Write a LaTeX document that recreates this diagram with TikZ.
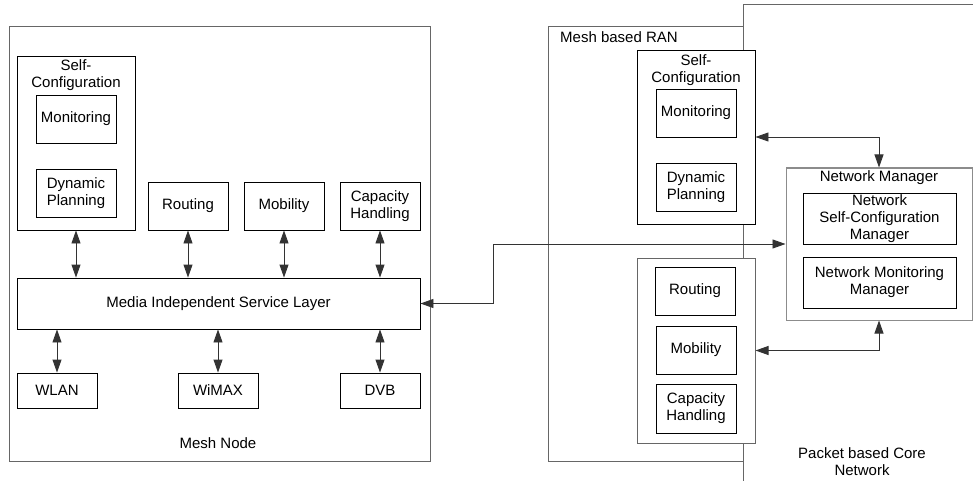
\documentclass[tikz,border=0pt]{standalone}
\usepackage{fontspec}
\setmainfont{Liberation Sans}
\usetikzlibrary{arrows.meta}
\begin{document}
\begin{tikzpicture}[x=1pt,y=-1pt,
 box/.style={draw=black, line width=0.9pt, fill=white, inner sep=0pt, align=center, font=\fontsize{15}{17}\selectfont},
 gbox/.style={box, draw=black!60, line width=1pt},
 lbl/.style={inner sep=0pt, align=center, font=\fontsize{15}{17}\selectfont},
 arr/.style={draw=black!80, line width=0.9pt, arrows={Triangle[length=13pt,width=9pt]-Triangle[length=13pt,width=9pt]}}]
\useasboundingbox (0,0) rectangle (973,481);
% ---------- left: mesh node ----------
\node[gbox, fill=none, minimum width=421, minimum height=434] (meshnode) at (219.5,244) {};
\node[lbl] (meshlbl) at (218,443) {Mesh Node};
\node[box, minimum width=118, minimum height=174] (sc1) at (76,143) {};
\node[lbl] (sc1lbl) at (76,75) {Self-\\Configuration};
\node[box, minimum width=80, minimum height=48] (mon1) at (76,119) {Monitoring};
\node[box, minimum width=80, minimum height=48] (dp1) at (76,193) {Dynamic\\Planning};
\node[box, minimum width=80, minimum height=48] (rout1) at (188,206) {Routing};
\node[box, minimum width=80, minimum height=48] (mob1) at (284,206) {Mobility};
\node[box, minimum width=80, minimum height=48] (cap1) at (380,206) {Capacity\\Handling};
\node[box, minimum width=403, minimum height=51] (misl) at (218.5,303.5) {Media Independent Service Layer};
\node[box, minimum width=80, minimum height=35] (wlan) at (57,390.5) {WLAN};
\node[box, minimum width=80, minimum height=35] (wimax) at (218,390.5) {WiMAX};
\node[box, minimum width=80, minimum height=35] (dvb) at (380,390.5) {DVB};
\draw[arr] (sc1.south) -- (sc1.south |- misl.north);
\draw[arr] (rout1.south) -- (rout1.south |- misl.north);
\draw[arr] (mob1.south) -- (mob1.south |- misl.north);
\draw[arr] (cap1.south) -- (cap1.south |- misl.north);
\draw[arr] (wlan.north) -- (wlan.north |- misl.south);
\draw[arr] (wimax.north) -- (wimax.north |- misl.south);
\draw[arr] (dvb.north) -- (dvb.north |- misl.south);
% ---------- right: core network and RAN ----------
\coordinate (coreA) at (985,5);
\coordinate (coreB) at (743,5);
\coordinate (coreC) at (743,495);
\draw[draw=black!60, line width=1pt] (coreA) -- (coreB) -- (coreC);
\node[gbox, fill=none, minimum width=195, minimum height=434] (ran) at (645.5,244) {};
\node[lbl, anchor=west] (ranlbl) at (560,37) {Mesh based RAN};
\node[lbl] (corelbl) at (862,461.5) {Packet based Core\\Network};
\node[box, minimum width=118, minimum height=174] (sc2) at (696,137) {};
\node[lbl] (sc2lbl) at (696,70.5) {Self-\\Configuration};
\node[box, minimum width=80, minimum height=48] (mon2) at (696,113) {Monitoring};
\node[box, minimum width=80, minimum height=48] (dp2) at (696,187) {Dynamic\\Planning};
\node[gbox, minimum width=118, minimum height=185] (grp) at (696,350.5) {};
\node[box, minimum width=80, minimum height=48] (rout2) at (695,291) {Routing};
\node[box, minimum width=80, minimum height=48] (mob2) at (696,350) {Mobility};
\node[box, minimum width=80, minimum height=49] (cap2) at (696,408.5) {Capacity\\Handling};
\node[gbox, draw=black!45, minimum width=186, minimum height=152] (nm) at (879,244) {};
\node[lbl] (nmlbl) at (879,178) {Network Manager};
\node[box, minimum width=153, minimum height=51] (nscm) at (879.5,218.5) {Network\\Self-Configuration\\Manager};
\node[box, minimum width=153, minimum height=51] (nmm) at (879.5,282.5) {Network Monitoring\\Manager};
\draw[arr] (sc2.east) -| (nm.north);
\draw[arr] (nm.south) |- (grp.east);
\draw[arr] (misl.east) -- ++(73,0) |- (nm.west);
\end{tikzpicture}
\end{document}
